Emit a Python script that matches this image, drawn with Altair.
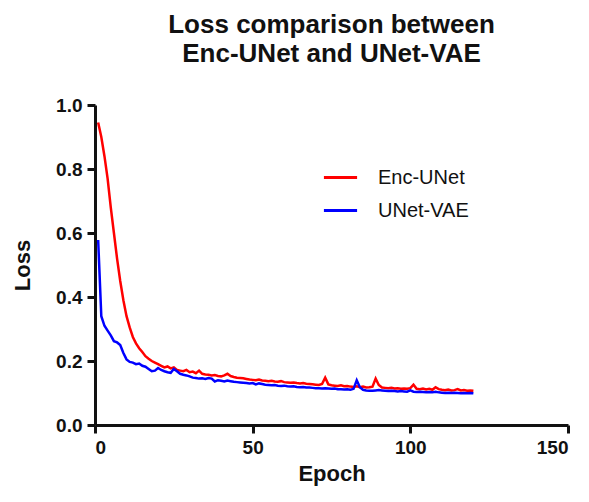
import altair as alt
import pandas as pd

epochs = list(range(1, 121))

enc_unet = [
    0.945, 0.90, 0.84, 0.77, 0.68, 0.60, 0.52, 0.45, 0.39, 0.34,
    0.305, 0.275, 0.255, 0.24, 0.228, 0.215, 0.207, 0.20, 0.195, 0.19,
    0.185, 0.18, 0.183, 0.177, 0.18, 0.172, 0.17, 0.168, 0.172, 0.165,
    0.167, 0.162, 0.17, 0.16, 0.158, 0.157, 0.155, 0.156, 0.153, 0.152,
    0.155, 0.16, 0.153, 0.15, 0.148, 0.147, 0.146, 0.144, 0.142, 0.141,
    0.14, 0.142, 0.139, 0.138, 0.137, 0.138, 0.136, 0.135, 0.137, 0.134,
    0.133, 0.132, 0.133, 0.131, 0.13, 0.131, 0.129, 0.128, 0.127, 0.126,
    0.125, 0.128, 0.148, 0.127, 0.124, 0.123, 0.122, 0.124, 0.121, 0.122,
    0.12, 0.119, 0.121, 0.118, 0.12, 0.117, 0.118, 0.12, 0.145, 0.125,
    0.117, 0.116, 0.115, 0.116, 0.114, 0.115, 0.113, 0.114, 0.113, 0.115,
    0.126, 0.113, 0.112, 0.114, 0.111, 0.113, 0.11, 0.118, 0.112, 0.11,
    0.109, 0.111, 0.108, 0.109, 0.112, 0.108, 0.109, 0.107, 0.108, 0.107,
]

unet_vae = [
    0.578, 0.34, 0.31, 0.295, 0.28, 0.262, 0.258, 0.25, 0.225, 0.205,
    0.197, 0.195, 0.19, 0.192, 0.185, 0.182, 0.175, 0.168, 0.17, 0.178,
    0.172, 0.168, 0.165, 0.163, 0.175, 0.168, 0.16, 0.157, 0.155, 0.152,
    0.148, 0.147, 0.145, 0.146, 0.144, 0.147, 0.145, 0.136, 0.14, 0.138,
    0.136, 0.139, 0.137, 0.135, 0.134, 0.133, 0.132, 0.131, 0.13, 0.131,
    0.127, 0.13, 0.128, 0.126, 0.125, 0.124, 0.125, 0.123, 0.122, 0.123,
    0.121, 0.12, 0.121, 0.119, 0.118, 0.119, 0.117, 0.117, 0.116, 0.115,
    0.115, 0.114, 0.115, 0.114, 0.113, 0.114, 0.112, 0.112, 0.111, 0.112,
    0.11, 0.113, 0.14, 0.118, 0.11, 0.108, 0.107, 0.107, 0.108, 0.109,
    0.108, 0.107, 0.106, 0.107, 0.106, 0.105, 0.106, 0.105, 0.104, 0.108,
    0.104, 0.103, 0.104, 0.103, 0.102, 0.103, 0.102, 0.104, 0.102, 0.101,
    0.1, 0.101, 0.1, 0.101, 0.1, 0.099, 0.1, 0.099, 0.1, 0.099,
]

series_names = ["Enc-UNet", "UNet-VAE"]
series_colors = ["#ff0000", "#0000ff"]
x_ticks = [0, 50, 100, 150]
y_ticks = [0.0, 0.2, 0.4, 0.6, 0.8, 1.0]

rows = []
for e, v in zip(epochs, enc_unet):
    rows.append({"Epoch": e, "Loss": v, "Model": series_names[0]})
for e, v in zip(epochs, unet_vae):
    rows.append({"Epoch": e, "Loss": v, "Model": series_names[1]})
df = pd.DataFrame(rows)

FONT = "Liberation Sans"

chart = alt.Chart(df).mark_line(strokeWidth=2.5).encode(
    x=alt.X("Epoch:Q",
            scale=alt.Scale(domain=[0, 150], nice=False, zero=True),
            axis=alt.Axis(values=x_ticks, title="Epoch", format="d")),
    y=alt.Y("Loss:Q",
            scale=alt.Scale(domain=[0, 1], nice=False),
            axis=alt.Axis(values=y_ticks, title="Loss", format=".1f")),
    color=alt.Color("Model:N",
                    scale=alt.Scale(domain=series_names, range=series_colors),
                    legend=alt.Legend(title=None, orient="none",
                                      legendX=227, legendY=54,
                                      symbolType="stroke", symbolSize=1100,
                                      symbolStrokeWidth=3,
                                      labelFontSize=20, labelFont=FONT,
                                      labelColor="#111111",
                                      labelOffset=19, rowPadding=4)),
    detail="Model:N",
).properties(
    width=473,
    height=320,
    autosize=alt.AutoSizeParams(type="none"),
    padding={"left": 87, "top": 97, "right": 12, "bottom": 62},
    title=alt.TitleParams(
        text=["Loss comparison between", "Enc-UNet and UNet-VAE"],
        fontSize=26, font=FONT, fontWeight="bold", color="#111111",
        anchor="middle", offset=29, lineHeight=29,
    ),
).configure_view(
    stroke=None,
).configure_axis(
    grid=False,
    domainColor="#111111", domainWidth=3,
    tickColor="#111111", tickWidth=3, tickSize=8,
    labelFont=FONT, labelFontSize=19, labelFontWeight="bold", labelColor="#111111",
    labelPadding=5,
    titleFont=FONT, titleFontSize=22, titleFontWeight="bold", titleColor="#111111",
).configure_axisX(
    titlePadding=6,
).configure_axisY(
    titlePadding=21,
)

chart.save("out.html", embed_options={"renderer": "svg", "actions": False})
